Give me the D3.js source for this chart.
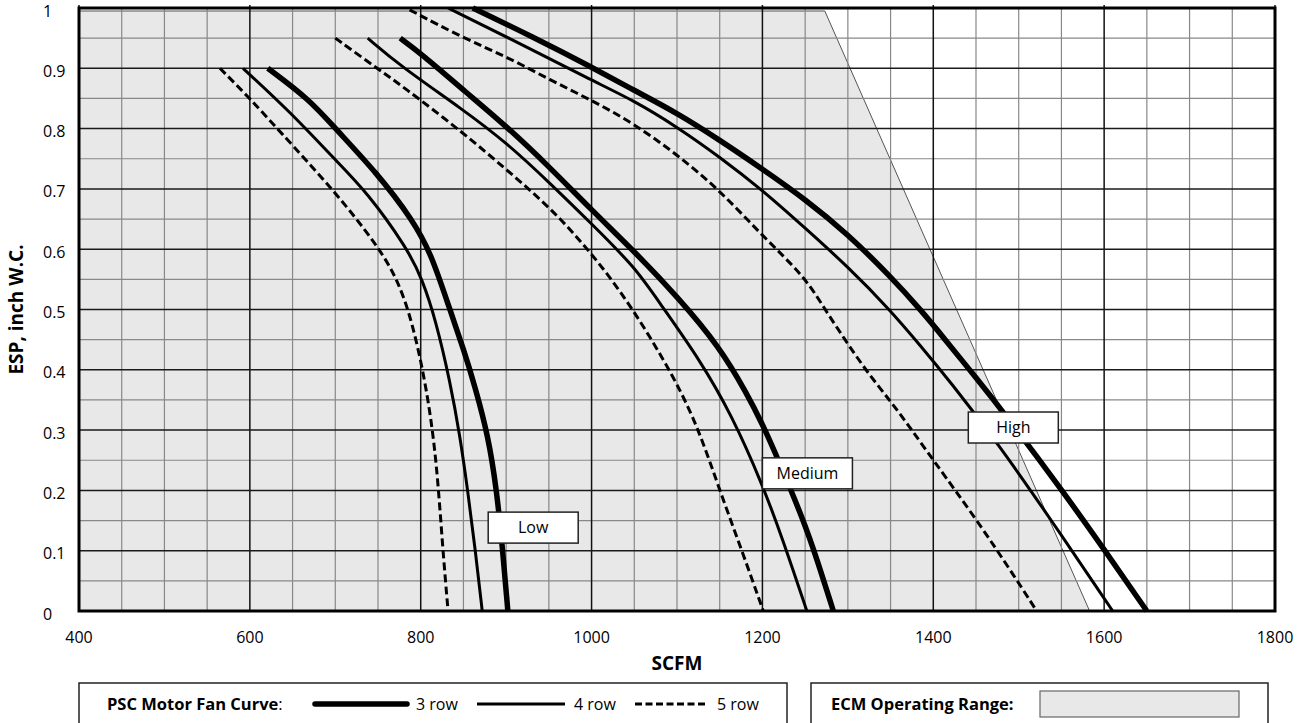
<!DOCTYPE html>
<html>
<head>
<meta charset="utf-8">
<script src="https://cdnjs.cloudflare.com/ajax/libs/d3/7.8.5/d3.min.js"></script>
<style>
    body { margin: 0; background: #ffffff; }
    text { font-family: "Open Sans", "Noto Sans", sans-serif; fill: #000; }
</style>
</head>
<body>
<div id="chart"></div>
<script>
// AXIS TICKS
const xTicks = [400, 600, 800, 1000, 1200, 1400, 1600, 1800];
const xTickLabels = ["400", "600", "800", "1000", "1200", "1400", "1600", "1800"];
const yTicks = [0, 0.1, 0.2, 0.3, 0.4, 0.5, 0.6, 0.7, 0.8, 0.9, 1];
const yTickLabels = ["0", "0.1", "0.2", "0.3", "0.4", "0.5", "0.6", "0.7", "0.8", "0.9", "1"];

// ECM OPERATING RANGE (cfm, esp)
const ecmCfm = [400, 1273, 1583, 400];
const ecmEsp = [0.995, 0.995, 0, 0];

// PSC FAN CURVES [cfm, esp]
const low3 = [[621, 0.9], [670, 0.848], [700, 0.80], [749, 0.726], [791, 0.648], [813, 0.59], [834, 0.5], [850, 0.435], [864, 0.37], [879, 0.29], [889, 0.2], [896, 0.1], [902, 0]];
const low4 = [[592, 0.9], [647, 0.828], [700, 0.748], [737, 0.695], [784, 0.602], [802, 0.55], [818, 0.48], [834, 0.383], [846, 0.29], [855, 0.2], [864, 0.1], [872, 0]];
const low5 = [[565, 0.9], [600, 0.85], [632, 0.80], [700, 0.695], [749, 0.607], [773, 0.55], [790, 0.48], [805, 0.383], [815, 0.29], [821, 0.2], [826, 0.1], [832, 0]];

const med3 = [[776, 0.95], [800, 0.925], [854, 0.859], [901, 0.803], [951, 0.736], [1000, 0.665], [1051, 0.595], [1100, 0.522], [1150, 0.438], [1182, 0.36], [1200, 0.31], [1217, 0.256], [1248, 0.151], [1264, 0.085], [1283, 0]];
const med4 = [[738, 0.95], [776, 0.904], [850, 0.831], [901, 0.776], [951, 0.71], [1000, 0.642], [1051, 0.57], [1080, 0.51], [1127, 0.416], [1164, 0.325], [1200, 0.21], [1224, 0.118], [1252, 0]];
const med5 = [[700, 0.95], [749, 0.9], [776, 0.873], [850, 0.793], [901, 0.731], [951, 0.67], [998, 0.597], [1045, 0.51], [1100, 0.38], [1127, 0.295], [1150, 0.2], [1177, 0.096], [1201, 0]];

const high3 = [[861, 1.0], [930, 0.953], [1000, 0.902], [1049, 0.864], [1100, 0.826], [1150, 0.781], [1200, 0.733], [1250, 0.683], [1300, 0.625], [1349, 0.556], [1385, 0.5], [1414, 0.45], [1451, 0.385], [1482, 0.33], [1551, 0.2], [1601, 0.1], [1650, 0]];
const high4 = [[832, 1.0], [901, 0.952], [1000, 0.88], [1049, 0.847], [1100, 0.803], [1150, 0.753], [1200, 0.698], [1250, 0.635], [1300, 0.571], [1349, 0.5], [1385, 0.44], [1420, 0.38], [1475, 0.279], [1538, 0.151], [1610, 0]];
const high5 = [[787, 0.997], [850, 0.95], [901, 0.919], [951, 0.881], [1000, 0.847], [1049, 0.809], [1100, 0.757], [1150, 0.698], [1200, 0.622], [1250, 0.554], [1273, 0.5], [1320, 0.4], [1349, 0.35], [1375, 0.3], [1400, 0.25], [1451, 0.151], [1498, 0.051], [1521, 0]];

// SPEED LABELS (box top-left corner in cfm / esp)
const speedNames = ["Low", "Medium", "High"];
const speedCfm = [879, 1200, 1441];
const speedEsp = [0.164, 0.254, 0.33];

// LEGEND
const rowNames = ["3 row", "4 row", "5 row"];

const curves = [
    { rows: 3, points: low3 }, { rows: 4, points: low4 }, { rows: 5, points: low5 },
    { rows: 3, points: med3 }, { rows: 4, points: med4 }, { rows: 5, points: med5 },
    { rows: 3, points: high3 }, { rows: 4, points: high4 }, { rows: 5, points: high5 }
];

const lineStyle = {
    3: { width: 5.5, dash: null },
    4: { width: 3, dash: null },
    5: { width: 3, dash: "8,4" }
};

const width = 1298;
const height = 723;

const x = d3.scaleLinear().domain([400, 1800]).range([79, 1275]);
const y = d3.scaleLinear().domain([0, 1]).range([611, 8]);

const svg = d3.select("#chart")
    .append("svg")
    .attr("width", width)
    .attr("height", height);

//ECM RANGE
svg.append("polygon")
    .attr("points", ecmCfm.map((c, i) => `${x(c)},${y(ecmEsp[i])}`).join(" "))
    .style("fill", "#e8e8e8")
    .style("stroke", "#555")
    .style("stroke-width", 1);

//GRID
const grid = svg.append("g");
const minorX = d3.range(450, 1800, 50).filter(v => !xTicks.includes(v));
const minorY = d3.range(0.05, 1, 0.1);

grid.selectAll(".minorX")
    .data(minorX)
    .join("line")
    .attr("x1", d => x(d)).attr("x2", d => x(d))
    .attr("y1", y(1)).attr("y2", y(0))
    .style("stroke", "#888")
    .style("stroke-width", 1.2);

grid.selectAll(".minorY")
    .data(minorY)
    .join("line")
    .attr("x1", x(400)).attr("x2", x(1800))
    .attr("y1", d => y(d)).attr("y2", d => y(d))
    .style("stroke", "#888")
    .style("stroke-width", 1.2);

grid.selectAll(".majorX")
    .data(xTicks)
    .join("line")
    .attr("x1", d => x(d)).attr("x2", d => x(d))
    .attr("y1", y(1) - 3).attr("y2", y(0))
    .style("stroke", "#111")
    .style("stroke-width", 1.5);

grid.selectAll(".majorY")
    .data(yTicks)
    .join("line")
    .attr("x1", x(400)).attr("x2", x(1800))
    .attr("y1", d => y(d)).attr("y2", d => y(d))
    .style("stroke", "#1a1a1a")
    .style("stroke-width", 1.5);

//CURVES
const line = d3.line()
    .x(d => x(d[0]))
    .y(d => y(d[1]))
    .curve(d3.curveBasis);

svg.append("g")
    .selectAll("path")
    .data(curves)
    .join("path")
    .attr("d", d => line(d.points))
    .style("fill", "none")
    .style("stroke", "#000")
    .style("stroke-width", d => lineStyle[d.rows].width)
    .style("stroke-dasharray", d => lineStyle[d.rows].dash);

//FRAME
svg.append("rect")
    .attr("x", x(400))
    .attr("y", y(1))
    .attr("width", x(1800) - x(400))
    .attr("height", y(0) - y(1))
    .style("fill", "none")
    .style("stroke", "#000")
    .style("stroke-width", 3);

//SPEED LABELS
const labels = svg.append("g")
    .selectAll("g")
    .data(speedNames)
    .join("g")
    .attr("transform", (d, i) => `translate(${x(speedCfm[i])},${y(speedEsp[i])})`);

labels.append("rect")
    .attr("width", 90)
    .attr("height", 31)
    .style("fill", "#fff")
    .style("stroke", "#222")
    .style("stroke-width", 1.5);

labels.append("text")
    .attr("x", 45)
    .attr("y", 21)
    .attr("text-anchor", "middle")
    .style("font-size", "16px")
    .text(d => d);

//AXIS LABELS
svg.append("g")
    .selectAll("text")
    .data(xTicks)
    .join("text")
    .attr("x", d => x(d))
    .attr("y", 643)
    .attr("text-anchor", "middle")
    .style("font-size", "16px")
    .text((d, i) => xTickLabels[i]);

svg.append("g")
    .selectAll("text")
    .data(yTicks)
    .join("text")
    .attr("x", 43)
    .attr("y", d => y(d) + 8.5)
    .style("font-size", "16px")
    .text((d, i) => yTickLabels[i]);

svg.append("text")
    .attr("x", (x(400) + x(1800)) / 2)
    .attr("y", 670)
    .attr("text-anchor", "middle")
    .style("font-size", "19px")
    .style("font-weight", "bold")
    .text("SCFM");

svg.append("text")
    .attr("transform", `translate(23,${(y(0) + y(1)) / 2}) rotate(-90)`)
    .attr("text-anchor", "middle")
    .style("font-size", "19px")
    .style("font-weight", "bold")
    .text("ESP, inch W.C.");

//LEGEND
const legendY = 704;
svg.append("rect")
    .attr("x", 79).attr("y", 683)
    .attr("width", 708).attr("height", 60)
    .style("fill", "#fff")
    .style("stroke", "#222")
    .style("stroke-width", 1.5);

const pscTitle = svg.append("text")
    .attr("x", 107)
    .attr("y", legendY + 6)
    .style("font-size", "16.5px");
pscTitle.append("tspan").style("font-weight", "bold").text("PSC Motor Fan Curve");
pscTitle.append("tspan").text(":");

const legendLineX = [315, 477, 635];
const legendLineW = [92, 88, 73];
const legendItems = svg.append("g")
    .selectAll("g")
    .data(rowNames)
    .join("g")
    .attr("transform", (d, i) => `translate(${legendLineX[i]},${legendY})`);

legendItems.append("line")
    .attr("x1", 0)
    .attr("x2", (d, i) => legendLineW[i])
    .style("stroke", "#000")
    .style("stroke-linecap", (d, i) => i === 0 ? "round" : "butt")
    .style("stroke-width", (d, i) => lineStyle[i + 3].width)
    .style("stroke-dasharray", (d, i) => i === 2 ? "7,3.5" : null);

legendItems.append("text")
    .attr("x", (d, i) => legendLineW[i] + 9)
    .attr("y", 6)
    .style("font-size", "16px")
    .text(d => d);

svg.append("rect")
    .attr("x", 811).attr("y", 683)
    .attr("width", 457).attr("height", 60)
    .style("fill", "#fff")
    .style("stroke", "#222")
    .style("stroke-width", 1.5);

svg.append("text")
    .attr("x", 831)
    .attr("y", legendY + 6)
    .style("font-size", "16.5px")
    .style("font-weight", "bold")
    .text("ECM Operating Range:");

svg.append("rect")
    .attr("x", 1040).attr("y", 691)
    .attr("width", 199).attr("height", 26)
    .style("fill", "#e8e8e8")
    .style("stroke", "#666")
    .style("stroke-width", 1.2);
</script>
</body>
</html>
